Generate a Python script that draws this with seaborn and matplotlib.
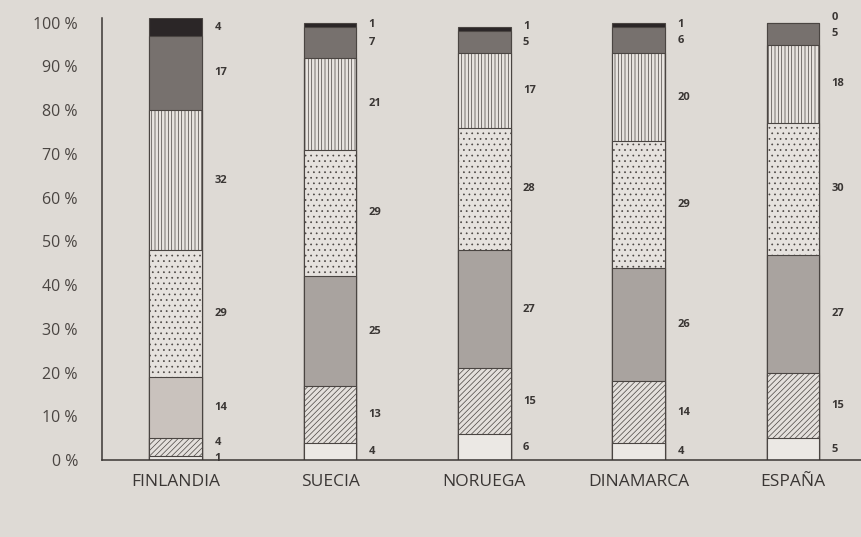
import numpy as np
import pandas as pd
import matplotlib
matplotlib.use("Agg")
import matplotlib.pyplot as plt
import seaborn as sns

# Data (bottom segment first)
countries = ["FINLANDIA", "SUECIA", "NORUEGA", "DINAMARCA", "ESPAÑA"]
seg1 = [1, 4, 6, 4, 5]
seg2 = [4, 13, 15, 14, 15]
seg3 = [14, 25, 27, 26, 27]
seg4 = [29, 29, 28, 29, 30]
seg5 = [32, 21, 17, 20, 18]
seg6 = [17, 7, 5, 6, 5]
seg7 = [4, 1, 1, 1, 0]
segments = [seg1, seg2, seg3, seg4, seg5, seg6, seg7]

yticks = [0, 10, 20, 30, 40, 50, 60, 70, 80, 90, 100]
ytick_labels = [f"{v} %" for v in yticks]

# styles per segment
fill_colors = ["#ebe8e4", "#e4e0dc", "#a9a39f", "#e6e2de", "#e8e4e0", "#77716e", "#2b2627"]
hatches = ["", "//////", "", "...", "|||||", "", ""]
paper = "#dedad5"
ink = "#3a3634"

sns.set_style("white")
plt.rcParams["font.family"] = ["Open Sans", "DejaVu Sans"]
plt.rcParams["hatch.linewidth"] = 0.5

fig = plt.figure(figsize=(8.61, 5.37), dpi=100, facecolor=paper)
ax = fig.add_axes([0.118, 0.143, 0.882, 0.823])
ax.set_facecolor(paper)

cum = np.cumsum(np.array(segments), axis=0)

# draw cumulative bars from top layer down so lower layers cover upper ones
for k in range(len(segments) - 1, -1, -1):
    df = pd.DataFrame({"pais": countries, "total": cum[k]})
    pal = {c: fill_colors[k] for c in countries}
    if k == 2:
        pal["FINLANDIA"] = "#c9c2bd"  # lighter grey in the Finland bar
    sns.barplot(data=df, x="pais", y="total", hue="pais", palette=pal,
                legend=False, saturation=1, width=0.34, hatch=hatches[k],
                edgecolor="#4a4542", linewidth=0.8, ax=ax)

# value labels to the right of each bar
for i in range(len(countries)):
    prev = -10
    for k in range(len(segments)):
        mid = cum[k][i] - segments[k][i] / 2
        y = max(mid, prev + 3.6)
        prev = y
        ax.text(i + 0.25, y, str(segments[k][i]), ha="left", va="center",
                fontsize=8, fontweight="bold", color=ink)

ax.set_ylim(0, 101)
ax.set_xlim(-0.48, 4.44)
ax.set_yticks(yticks)
ax.set_yticklabels(ytick_labels, fontsize=11.5, color="#4a4542")
ax.set_xlabel("")
ax.set_ylabel("")
ax.tick_params(axis="y", direction="out", length=13, width=1, color=ink, pad=4)
ax.tick_params(axis="x", which="major", length=0, labelsize=12.5, labelcolor="#3a3634", pad=10)
ax.set_xticks([0.5, 1.5, 2.5, 3.5], minor=True)
ax.tick_params(axis="x", which="minor", direction="out", length=10, width=1, color=ink)

sns.despine(ax=ax)
for s in ["left", "bottom"]:
    ax.spines[s].set_color(ink)
    ax.spines[s].set_linewidth(1.1)

fig.savefig("out.png", dpi=100, facecolor=paper)
